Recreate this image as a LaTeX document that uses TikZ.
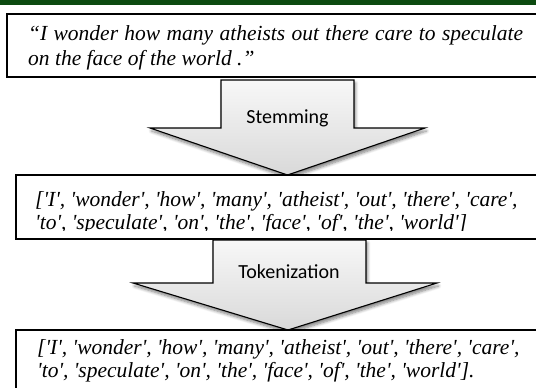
\documentclass[tikz,border=0pt]{standalone}
\usepackage{fontspec}
\setmainfont{Liberation Serif}
\newfontfamily\labelfont{Carlito}
\newfontfamily\listfont{Liberation Serif}[Ligatures=TeXOff]
\usetikzlibrary{shadows.blur}
\definecolor{bandgreen}{RGB}{12,74,16}
\tikzset{
  textbox/.style={draw=black, line width=1.3pt, fill=white},
  flowarrow/.style={draw=black, line width=1.1pt, line join=miter,
    top color=gray!6, bottom color=gray!30,
    blur shadow={shadow xshift=1.5pt, shadow yshift=-3pt, shadow blur steps=6,
      shadow blur radius=3pt, shadow opacity=50}},
  steplabel/.style={font=\labelfont\fontsize{20}{24}\selectfont, inner sep=0pt, anchor=base},
  boxline/.style={font=\listfont\itshape\fontsize{21.5}{26}\selectfont, inner sep=0pt, anchor=base west}
}
\begin{document}
\begin{tikzpicture}[x=1pt, y=-1pt]
  \useasboundingbox (0,0) rectangle (536,388);
  \clip (0,0) rectangle (536,388);

  % title band
  \fill[bandgreen] (0,0) rectangle (536,5);

  % arrow: Stemming
  \coordinate (a1tl) at (221,80);
  \coordinate (a1tr) at (354,80);
  \coordinate (a1sr) at (354,128);
  \coordinate (a1hr) at (425,128);
  \coordinate (a1tip) at (287.5,175);
  \coordinate (a1hl) at (150,128);
  \coordinate (a1sl) at (221,128);
  \draw[flowarrow] (a1tl) -- (a1tr) -- (a1sr) -- (a1hr) -- (a1tip) -- (a1hl) -- (a1sl) -- cycle;
  \node[steplabel] (stem) at (287.5,123) {Stemming};

  % arrow: Tokenization
  \coordinate (a2tl) at (213,240);
  \coordinate (a2tr) at (366,240);
  \coordinate (a2sr) at (366,283);
  \coordinate (a2hr) at (437,283);
  \coordinate (a2tip) at (288,330);
  \coordinate (a2hl) at (133,283);
  \coordinate (a2sl) at (213,283);
  \draw[flowarrow] (a2tl) -- (a2tr) -- (a2sr) -- (a2hr) -- (a2tip) -- (a2hl) -- (a2sl) -- cycle;
  \node[steplabel] (token) at (289,278) {Tokenization};

  % input sentence
  \draw[textbox] (7,14) rectangle (545,77);
  \node[boxline] (s1) at (28,40) {\makebox[495pt][s]{\fontspec{Liberation Serif}\itshape “I wonder how many atheists out there care to speculate}};
  \node[boxline] (s2) at (28,65.5) {\fontspec{Liberation Serif}\itshape on the face of the world .”};

  % stemmed tokens
  \draw[textbox] (16,175) rectangle (545,239);
  \node[boxline] (t1) at (35,206) {['I', 'wonder', 'how', 'many', 'atheist', 'out', 'there', 'care',};
  \begin{scope}
    \clip (16,175) rectangle (545,230.5);
    \node[boxline] (t2) at (35,229.5) {'to', 'speculate', 'on', 'the', 'face', 'of', 'the', 'world']};
  \end{scope}

  % final tokens
  \draw[textbox] (16,330) rectangle (545,400);
  \node[boxline] (u1) at (37,354) {['I', 'wonder', 'how', 'many', 'atheist', 'out', 'there', 'care',};
  \node[boxline] (u2) at (37,377) {'to', 'speculate', 'on', 'the', 'face', 'of', 'the', 'world'].};
\end{tikzpicture}
\end{document}
